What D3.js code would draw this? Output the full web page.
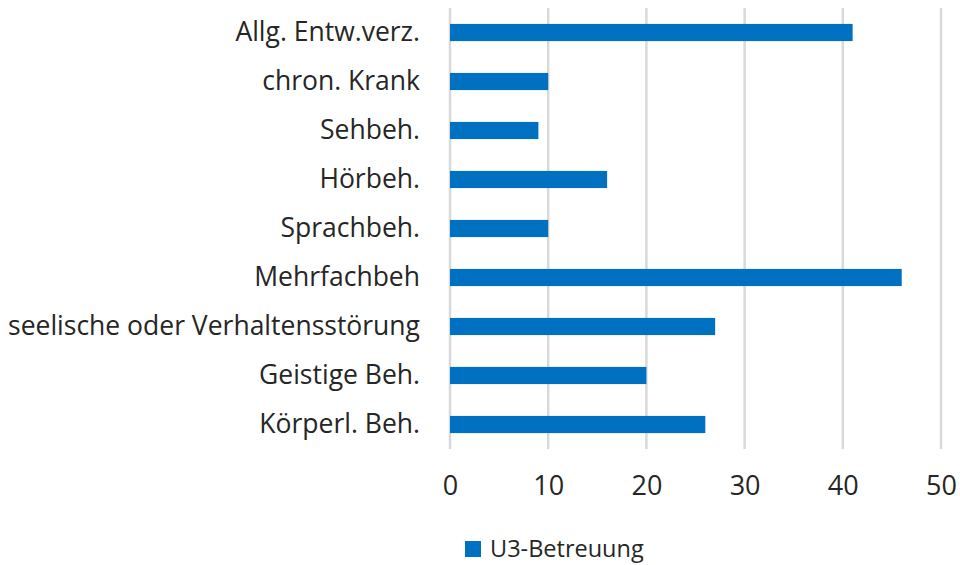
<!DOCTYPE html>
<html><head><meta charset="utf-8">
<script src="https://cdn.jsdelivr.net/npm/d3@7"></script>
<style>body{margin:0;background:#fff}svg{display:block}</style>
</head><body><svg id="c" width="960" height="565"></svg>
<script>
const categories = ["Allg. Entw.verz.","chron. Krank","Sehbeh.","Hörbeh.","Sprachbeh.","Mehrfachbeh","seelische oder Verhaltensstörung","Geistige Beh.","Körperl. Beh."];
const values = [41,10,9,16,10,46,27,20,26];
const xTicks = [0,10,20,30,40,50];
const seriesName = "U3-Betreuung";

const svg = d3.select("#c");
const font = "'Open Sans', sans-serif";
const txt = "#262626";
const x = d3.scaleLinear().domain([0,50]).range([450,941]);
const y = d3.scaleBand().domain(categories).range([8,449]).paddingInner(0.65).paddingOuter(0.325);

svg.append("g").selectAll("line").data(xTicks).join("line")
  .attr("x1",d=>x(d)).attr("x2",d=>x(d)).attr("y1",8).attr("y2",449)
  .attr("stroke","#d9d9d9").attr("stroke-width",2.5);

svg.append("g").selectAll("rect").data(values).join("rect")
  .attr("x",x(0)).attr("y",(d,i)=>y(categories[i]))
  .attr("width",d=>x(d)-x(0)).attr("height",y.bandwidth())
  .attr("fill","#0070c0");

const ya = d3.axisLeft(y).tickSize(0).tickPadding(0);
const yg = svg.append("g").attr("transform","translate(420,0)").call(ya);
yg.select(".domain").remove();
yg.selectAll("text").attr("font-family",font).attr("font-size",26.5).attr("fill",txt);

const xa = d3.axisBottom(x).tickValues(xTicks).tickSize(0).tickPadding(0);
const xg = svg.append("g").attr("transform","translate(0,476)").call(xa);
xg.select(".domain").remove();
xg.selectAll("text").attr("font-family",font).attr("font-size",27).attr("fill",txt);

const lg = svg.append("g");
lg.append("rect").attr("x",465).attr("y",541).attr("width",16).attr("height",16).attr("fill","#0070c0");
lg.append("text").attr("x",490).attr("y",549).attr("dy","0.35em").attr("font-family",font).attr("font-size",23.5).attr("fill",txt).text(seriesName);
</script></body></html>
